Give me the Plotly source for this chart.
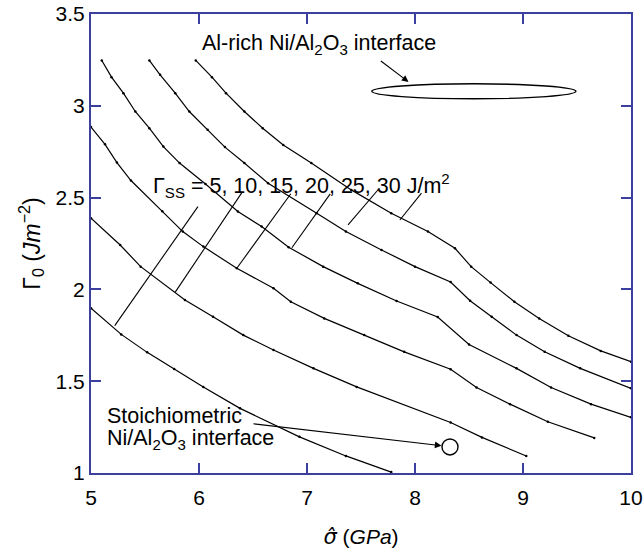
import plotly.graph_objects as go

# ---- data ----
gss_levels = [5, 10, 15, 20, 25, 30]

sigma_5 = [5.0, 5.28, 5.52, 5.77, 6.04, 6.38, 6.93, 7.36, 7.78]
gamma_5 = [1.897, 1.755, 1.657, 1.566, 1.469, 1.352, 1.197, 1.093, 1.005]

sigma_10 = [5.0, 5.27, 5.46, 5.87, 6.13, 6.41, 6.69, 7.06, 7.46, 8.33, 8.62, 9.03]
gamma_10 = [2.388, 2.242, 2.124, 1.942, 1.851, 1.751, 1.670, 1.570, 1.469, 1.275, 1.194, 1.093]

sigma_15 = [5.0, 5.13, 5.24, 5.37, 5.66, 5.85, 6.04, 6.35, 6.69, 6.85, 7.16, 7.53, 7.90, 8.33, 8.57, 8.88, 9.23, 9.66]
gamma_15 = [2.884, 2.79, 2.691, 2.593, 2.425, 2.315, 2.233, 2.115, 2.006, 1.933, 1.842, 1.751, 1.660, 1.565, 1.466, 1.375, 1.279, 1.191]

sigma_20 = [5.10, 5.19, 5.30, 5.41, 5.54, 5.67, 5.82, 6.06, 6.36, 6.58, 6.83, 7.15, 7.47, 7.83, 8.21, 8.50, 8.94, 9.26, 9.63, 10.0]
gamma_20 = [3.247, 3.156, 3.069, 2.969, 2.878, 2.778, 2.688, 2.574, 2.424, 2.342, 2.23, 2.124, 2.033, 1.937, 1.850, 1.70, 1.570, 1.466, 1.375, 1.303]

sigma_25 = [5.54, 5.64, 5.78, 5.91, 6.08, 6.24, 6.42, 6.64, 7.09, 7.36, 7.69, 8.0, 8.33, 8.51, 8.71, 8.94, 9.20, 9.53, 10.0]
gamma_25 = [3.247, 3.169, 3.069, 2.969, 2.869, 2.775, 2.688, 2.578, 2.415, 2.315, 2.215, 2.124, 2.04, 1.938, 1.851, 1.751, 1.660, 1.570, 1.461]

sigma_30 = [5.97, 6.12, 6.25, 6.42, 6.59, 6.78, 7.04, 7.41, 7.78, 8.12, 8.37, 8.52, 8.70, 8.92, 9.15, 9.42, 9.72, 10.0]
gamma_30 = [3.247, 3.156, 3.069, 2.969, 2.878, 2.787, 2.688, 2.542, 2.415, 2.315, 2.224, 2.124, 2.037, 1.933, 1.842, 1.748, 1.665, 1.606]

curves_sigma = [sigma_5, sigma_10, sigma_15, sigma_20, sigma_25, sigma_30]
curves_gamma = [gamma_5, gamma_10, gamma_15, gamma_20, gamma_25, gamma_30]

# leader lines from the Gamma_SS label to each curve
tie_sigma_lo = [5.22, 5.78, 6.35, 6.86, 7.38, 7.86]
tie_gamma_lo = [1.803, 1.985, 2.115, 2.227, 2.351, 2.378]
tie_sigma_hi = [5.99, 6.40, 6.85, 7.215, 7.67, 8.06]
tie_gamma_hi = [2.451, 2.530, 2.521, 2.52, 2.551, 2.524]

# Al-rich interface ellipse (sigma range, gamma range)
alrich_sigma = [7.60, 9.49]
alrich_gamma = [3.038, 3.12]
# stoichiometric interface point
stoich_sigma = [8.324]
stoich_gamma = [1.142]

x_ticks = [5, 6, 7, 8, 9, 10]
y_ticks = [1, 1.5, 2, 2.5, 3, 3.5]
y_ticklabels = ["1", "1.5", "2", "2.5", "3", "3.5"]

FONT = "Liberation Sans, Arial, sans-serif"
AXC = "#3b3f9e"

fig = go.Figure()
for s, g in zip(curves_sigma, curves_gamma):
    fig.add_trace(go.Scatter(x=s, y=g, mode="lines+markers",
                             line=dict(color="black", width=1.2),
                             marker=dict(color="black", size=2.5),
                             showlegend=False, hoverinfo="skip"))
for x0, y0, x1, y1 in zip(tie_sigma_lo, tie_gamma_lo, tie_sigma_hi, tie_gamma_hi):
    fig.add_trace(go.Scatter(x=[x0, x1], y=[y0, y1], mode="lines",
                             line=dict(color="black", width=1.1),
                             showlegend=False, hoverinfo="skip"))

fig.add_trace(go.Scatter(x=stoich_sigma, y=stoich_gamma, mode="markers",
                         marker=dict(symbol="circle-open", size=16, color="black",
                                     line=dict(width=1.4, color="black")),
                         showlegend=False, hoverinfo="skip"))

fig.add_shape(type="circle", xref="x", yref="y",
              x0=alrich_sigma[0], x1=alrich_sigma[1],
              y0=alrich_gamma[0], y1=alrich_gamma[1],
              line=dict(color="black", width=1.4))

ann_font = dict(family=FONT, size=21.5, color="black")
fig.add_annotation(x=6.01, y=3.335, xref="x", yref="y", xanchor="left", yanchor="middle",
                   text="Al-rich Ni/Al<sub>2</sub>O<sub>3</sub> interface",
                   showarrow=False, font=ann_font)
fig.add_annotation(x=7.94, y=3.13, ax=7.67, ay=3.25, xref="x", yref="y", axref="x", ayref="y",
                   text="", showarrow=True, arrowhead=2, arrowsize=1.2, arrowwidth=1.1,
                   arrowcolor="black")
fig.add_annotation(x=5.56, y=2.565, xref="x", yref="y", xanchor="left", yanchor="middle",
                   text="Γ<sub>SS</sub> = 5, 10, 15, 20, 25, 30 J/m<sup>2</sup>",
                   showarrow=False, font=ann_font)
fig.add_annotation(x=5.13, y=1.31, xref="x", yref="y", xanchor="left", yanchor="middle",
                   text="Stoichiometric", showarrow=False, font=ann_font)
fig.add_annotation(x=5.13, y=1.185, xref="x", yref="y", xanchor="left", yanchor="middle",
                   text="Ni/Al<sub>2</sub>O<sub>3</sub> interface", showarrow=False, font=ann_font)
fig.add_annotation(x=8.245, y=1.149, ax=6.49, ay=1.269, xref="x", yref="y", axref="x", ayref="y",
                   text="", showarrow=True, arrowhead=2, arrowsize=1.2, arrowwidth=1.1,
                   arrowcolor="black")

axis_common = dict(showgrid=False, zeroline=False, showline=True, linecolor=AXC, linewidth=2,
                   mirror="ticks", ticks="inside", ticklen=10, tickwidth=1.5, tickcolor=AXC,
                   automargin=False,
                   tickfont=dict(family=FONT, size=21, color="black"))

fig.update_xaxes(range=[5, 10], tickvals=x_ticks, ticktext=[str(v) for v in x_ticks],
                 ticklabelstandoff=5,
                 title=dict(text="<span style=\"font-family:DejaVu Sans\"><i>σ̂</i></span> (<i>GPa</i>)",
                            font=dict(family=FONT, size=21, color="black"),
                            standoff=24),
                 **axis_common)
fig.update_yaxes(range=[1, 3.5], tickvals=y_ticks, ticktext=y_ticklabels,
                 title=dict(text="Γ<sub>0</sub> (<i>Jm</i><sup>−2</sup>)",
                            font=dict(family=FONT, size=23, color="black"), standoff=9),
                 **axis_common)

fig.update_layout(width=643, height=549, margin=dict(l=91, r=12, t=14, b=76),
                  paper_bgcolor="white", plot_bgcolor="white", showlegend=False)

fig.write_html("out.html")
